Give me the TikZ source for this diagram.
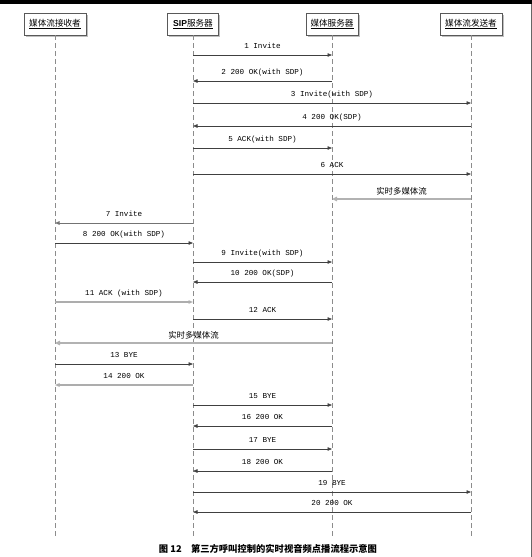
\documentclass[tikz,border=0pt]{standalone}
\usepackage{fontspec}
\setmainfont{Liberation Mono}
\newfontfamily\cjk{Noto Sans CJK SC}
\newfontfamily\sipfont{Liberation Sans}
\usepackage{tikz}
\usetikzlibrary{arrows.meta,shadows}

\begin{document}
\begin{tikzpicture}[
  x=1pt, y=-1pt,
  font=\fontsize{7.6}{8}\selectfont,
  head/.style={draw=black!65,fill=white,minimum width=#1,minimum height=22pt,inner sep=1pt,
    font=\cjk\fontsize{8.6}{9}\selectfont,
    drop shadow={shadow xshift=1.5pt,shadow yshift=-1.5pt,fill=black!25,opacity=1}},
  life/.style={draw=black!45,dash pattern=on 5pt off 3pt,line width=0.5pt},
  msg/.style={draw=black!75,line width=0.6pt,-{Triangle[length=4.5pt,width=3.5pt]}},
  msgmid/.style={msg,draw=black!55,line width=0.8pt},
  msglight/.style={msg,draw=black!32,line width=1.1pt},
  stream/.style={draw=black!30,line width=1.6pt,-{Triangle[length=5pt,width=4.5pt]}},
  lbl/.style={above,inner sep=4.5pt,text height=5pt,text depth=1.5pt},
  slbl/.style={above,inner sep=3pt,font=\cjk\fontsize{8.4}{9}\selectfont},
]
  \useasboundingbox (0,0) rectangle (532,557);
  \fill[black] (0,0) rectangle (532,4);
  \draw[black!60,line width=1pt] (531.5,4) -- (531.5,557);

  % lifeline heads
  \node[head=62pt] (rcv) at (55,24) {\underline{媒体流接收者}};
  \node[head=51pt] (sip) at (193,24) {\underline{{\sipfont\bfseries SIP}服务器}};
  \node[head=52pt] (med) at (332,24) {\underline{媒体服务器}};
  \node[head=62pt] (snd) at (471,24) {\underline{媒体流发送者}};

  \coordinate (bot) at (0,537);
  \draw[life] (rcv.south) -- (rcv |- bot);
  \draw[life] (sip.south) -- (sip |- bot);
  \draw[life] (med.south) -- (med |- bot);
  \draw[life] (snd.south) -- (snd |- bot);

  % message rows
  \foreach \n/\y in {1/55,2/81,3/103,4/126,5/148,6/174,s1/199,7/223,8/243,9/262,10/282,
      11/302,12/319,s2/343,13/364,14/385,15/405,16/426,17/449,18/471,19/492,20/512}
    \coordinate (y\n) at (0,\y);

  \draw[msg] (sip |- y1) -- node[lbl]{1 Invite} (med |- y1);
  \draw[msg] (med |- y2) -- node[lbl]{2 200 OK(with SDP)} (sip |- y2);
  \draw[msg] (sip |- y3) -- node[lbl]{3 Invite(with SDP)} (snd |- y3);
  \draw[msg] (snd |- y4) -- node[lbl]{4 200 OK(SDP)} (sip |- y4);
  \draw[msg] (sip |- y5) -- node[lbl]{5 ACK(with SDP)} (med |- y5);
  \draw[msg] (sip |- y6) -- node[lbl]{6 ACK} (snd |- y6);
  \draw[stream] (snd |- ys1) -- node[slbl]{实时多媒体流} (med |- ys1);
  \draw[msgmid] (sip |- y7) -- node[lbl]{7 Invite} (rcv |- y7);
  \draw[msg] (rcv |- y8) -- node[lbl]{8 200 OK(with SDP)} (sip |- y8);
  \draw[msg] (sip |- y9) -- node[lbl]{9 Invite(with SDP)} (med |- y9);
  \draw[msg] (med |- y10) -- node[lbl]{10 200 OK(SDP)} (sip |- y10);
  \draw[msglight] (rcv |- y11) -- node[lbl]{11 ACK (with SDP)} (sip |- y11);
  \draw[msg] (sip |- y12) -- node[lbl]{12 ACK} (med |- y12);
  \draw[stream] (med |- ys2) -- node[slbl]{实时多媒体流} (rcv |- ys2);
  \draw[msg] (rcv |- y13) -- node[lbl]{13 BYE} (sip |- y13);
  \draw[msglight] (sip |- y14) -- node[lbl]{14 200 OK} (rcv |- y14);
  \draw[msg] (sip |- y15) -- node[lbl]{15 BYE} (med |- y15);
  \draw[msg] (med |- y16) -- node[lbl]{16 200 OK} (sip |- y16);
  \draw[msg] (sip |- y17) -- node[lbl]{17 BYE} (med |- y17);
  \draw[msg] (med |- y18) -- node[lbl]{18 200 OK} (sip |- y18);
  \draw[msg] (sip |- y19) -- node[lbl]{19 BYE} (snd |- y19);
  \draw[msg] (snd |- y20) -- node[lbl]{20 200 OK} (sip |- y20);

  \node[font=\cjk\bfseries\fontsize{9.3}{10}\selectfont] (cap) at (268,549)
    {图 12\quad 第三方呼叫控制的实时视音频点播流程示意图};
\end{tikzpicture}
\end{document}
